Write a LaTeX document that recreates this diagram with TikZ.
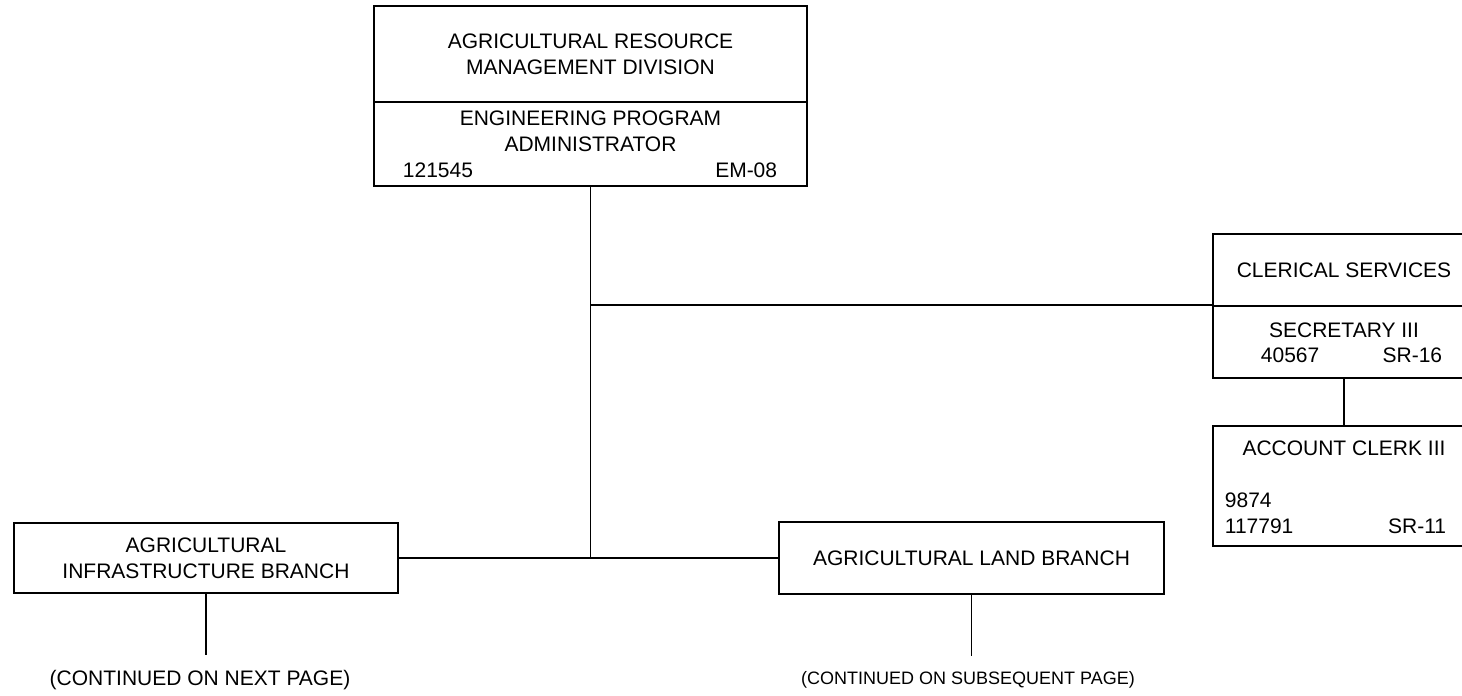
\documentclass[tikz,border=0pt]{standalone}
\usepackage{fontspec}
\setmainfont{Liberation Sans}
\usepackage{tikz}

\newcommand{\orgfont}{\fontsize{21}{26}\selectfont}
\newcommand{\orgsmall}{\fontsize{18}{22}\selectfont}

\begin{document}
\begin{tikzpicture}[x=1pt, y=-1pt, line width=1.8pt,
    orgbox/.style={draw, rectangle, inner sep=0pt, align=center, font=\orgfont},
    orgtxt/.style={inner sep=0pt, align=center, font=\orgfont}]
    \useasboundingbox (0,0) rectangle (1462,696);
    % division and administrator
    \node[orgbox, minimum width=433, minimum height=96] (div) at (590.5,54) {AGRICULTURAL RESOURCE\\MANAGEMENT DIVISION};
    \node[orgbox, minimum width=433, minimum height=84] (adm) at (590.5,144) {};
    \node[orgtxt] (admtitle) at (590.5,131.5) {ENGINEERING PROGRAM\\ADMINISTRATOR};
    \node[orgtxt, anchor=west] (admno) at (402,170) {121545};
    \node[orgtxt, anchor=east] (admgr) at (778,170) {EM-08};
    % clerical services
    \node[orgbox, minimum width=262, minimum height=72] (cler) at (1344,270) {CLERICAL SERVICES};
    \node[orgbox, minimum width=262, minimum height=72] (sec) at (1344,342) {};
    \node[orgtxt] (sectitle) at (1344,330) {SECRETARY III};
    \node[orgtxt, anchor=west] (secno) at (1260,355) {40567};
    \node[orgtxt, anchor=east] (secgr) at (1443,355) {SR-16};
    \node[orgbox, minimum width=262, minimum height=120] (clerk) at (1344,486) {};
    \node[orgtxt] (clerktitle) at (1344,448) {ACCOUNT CLERK III};
    \node[orgtxt, anchor=west] (clerkno) at (1224,500) {9874};
    \node[orgtxt, anchor=west] (clerkno2) at (1224,526) {117791};
    \node[orgtxt, anchor=east] (clerkgr) at (1447,526) {SR-11};
    % branches
    \node[orgbox, minimum width=384, minimum height=70] (infra) at (206,558) {AGRICULTURAL\\INFRASTRUCTURE BRANCH};
    \node[orgbox, minimum width=385, minimum height=72] (land) at (971.5,558) {AGRICULTURAL LAND BRANCH};
    \node[orgtxt] (infranext) at (200,680) {(CONTINUED ON NEXT PAGE)};
    \node[orgtxt, font=\orgsmall] (landnext) at (968,680) {(CONTINUED ON SUBSEQUENT PAGE)};
    % lines
    \coordinate (tap) at (adm.south |- sec.north west);
    \coordinate (fork) at (adm.south |- infra.east);
    \draw (adm.south) -- (fork);
    \draw (tap) -- (sec.north west);
    \draw (infra.east) -- (land.west);
    \draw (sec.south) -- (clerk.north);
    \foreach \b in {infra, land} {
        \draw (\b.south) -- ++(0,61) coordinate (\b tail);
    }
\end{tikzpicture}
\end{document}
